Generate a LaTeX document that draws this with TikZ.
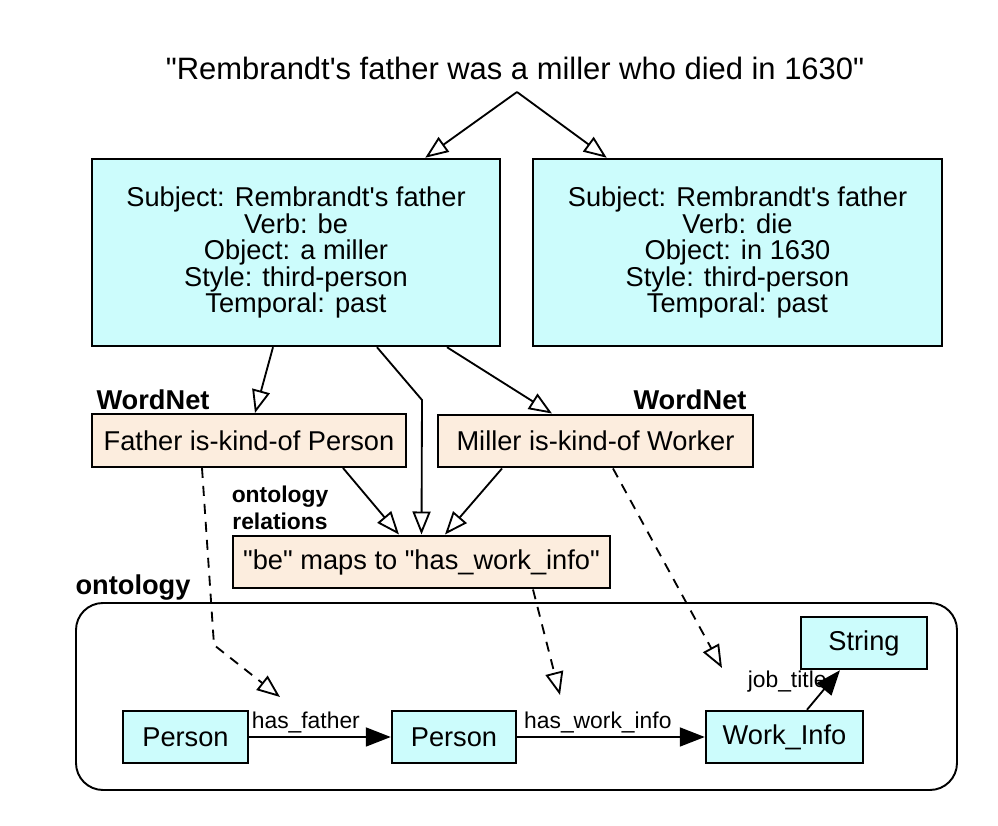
\documentclass[tikz,border=0pt]{standalone}
\usepackage{fontspec}
\setmainfont{Liberation Sans}[Ligatures=TeXOff]
\usetikzlibrary{arrows.meta}
\definecolor{cyanbox}{RGB}{204,252,252}
\definecolor{peachbox}{RGB}{252,237,222}
\tikzset{
  parsebox/.style={draw,line width=1.4pt,fill=cyanbox,align=center,inner sep=0pt,minimum width=8.16cm,minimum height=3.74cm,font=\fontsize{15.5}{15.1}\selectfont},
  factbox/.style={draw,line width=1.4pt,fill=peachbox,inner sep=0pt,minimum height=1.05cm,font=\fontsize{15.5}{18}\selectfont},
  classbox/.style={draw,line width=1.4pt,fill=cyanbox,inner sep=0pt,minimum height=1.04cm,font=\fontsize{15.5}{18}\selectfont},
  grouplbl/.style={font=\bfseries\fontsize{15.5}{18}\selectfont},
  openarr/.style={-{Triangle[open,length=4.6mm,width=3.6mm]},line width=1.05pt},
  dasharr/.style={openarr,dash pattern=on 2mm off 1.6mm},
  solidarr/.style={-{Triangle[length=5mm,width=3.8mm]},line width=1.05pt},
  rellbl/.style={font=\fontsize{13}{15}\selectfont,inner sep=1.5pt}
}

\begin{document}
\begin{tikzpicture}[x=1cm,y=1cm]
  \useasboundingbox (0,0) rectangle (19.96,-16.52);

  % sentence and its two parses
  \node[font=\fontsize{17.6}{20}\selectfont] (sentence) at (10.3,-1.36) {"Rembrandt's father was a miller who died in 1630"};
  \coordinate (split) at (10.34,-1.84);
  \node[parsebox] (lb) at (5.92,-5.05) {Subject: Rembrandt's father\\Verb: be\\Object: a miller\\Style: third-person\\Temporal: past};
  \node[parsebox,minimum width=8.18cm] (rb) at (14.75,-5.05) {Subject: Rembrandt's father\\Verb: die\\Object: in 1630\\Style: third-person\\Temporal: past};
  \draw[openarr] (split) -- ([xshift=-1.52cm]lb.north east);
  \draw[openarr] (split) -- ([xshift=1.5cm]rb.north west);

  % WordNet and ontology relations
  \node[grouplbl] (wnl) at (3.06,-8.0) {WordNet};
  \node[grouplbl] (wnr) at (13.8,-8.0) {WordNet};
  \node[factbox,minimum width=6.28cm] (fa) at (4.98,-8.81) {Father is-kind-of Person};
  \node[factbox,minimum width=6.30cm] (mw) at (11.91,-8.82) {Miller is-kind-of Worker};
  \node[grouplbl,font=\bfseries\fontsize{13}{15}\selectfont,align=center] (orel) at (5.6,-10.16) {ontology\\relations};
  \node[factbox,minimum width=7.54cm] (be) at (8.43,-11.24) {"be" maps to "has\_work\_info"};
  \coordinate (midbend) at (8.44,-8.0);
  \draw[openarr] ([xshift=-0.46cm]lb.south) -- ([xshift=0.12cm]fa.north);
  \draw[openarr] ([xshift=1.62cm]lb.south) -- (midbend) -- (be.north);
  \draw[openarr] ([xshift=3.02cm]lb.south) -- ([xshift=-0.87cm]mw.north);
  \draw[openarr] ([xshift=1.88cm]fa.south) -- ([xshift=-0.45cm]be.north);
  \draw[openarr] ([xshift=-1.87cm]mw.south) -- ([xshift=0.47cm]be.north);

  % ontology
  \node[grouplbl] (ontlbl) at (2.66,-11.76) {ontology};
  \node[draw,line width=1.1pt,rounded corners=0.54cm,minimum width=17.62cm,minimum height=3.74cm] (onto) at (10.33,-13.93) {};
  \node[classbox,minimum width=2.5cm] (p1) at (3.71,-14.74) {Person};
  \node[classbox,minimum width=2.48cm] (p2) at (9.08,-14.74) {Person};
  \node[classbox,minimum width=3.14cm] (wi) at (15.69,-14.74) {Work\_Info};
  \node[classbox,minimum width=2.52cm] (st) at (17.28,-12.86) {String};
  \draw[solidarr] (p1) -- (p2) node[rellbl,above,pos=.4] {has\_father};
  \draw[solidarr] (p2) -- (wi) node[rellbl,above,pos=.43] {has\_work\_info};
  \draw[solidarr] ([xshift=0.45cm]wi.north) -- ([xshift=-0.48cm]st.south) node[rellbl,left,pos=.7] {job\_title};

  % mappings into the ontology
  \coordinate (fpbend) at (4.28,-12.9);
  \coordinate (fptip) at (5.6,-13.94);
  \coordinate (bmtip) at (11.2,-13.9);
  \coordinate (mwtip) at (14.44,-13.36);
  \draw[dasharr] ([xshift=-0.94cm]fa.south) -- (fpbend) -- (fptip);
  \draw[dasharr] ([xshift=2.23cm]be.south) -- (bmtip);
  \draw[dasharr] ([xshift=0.35cm]mw.south) -- (mwtip);
\end{tikzpicture}
\end{document}
